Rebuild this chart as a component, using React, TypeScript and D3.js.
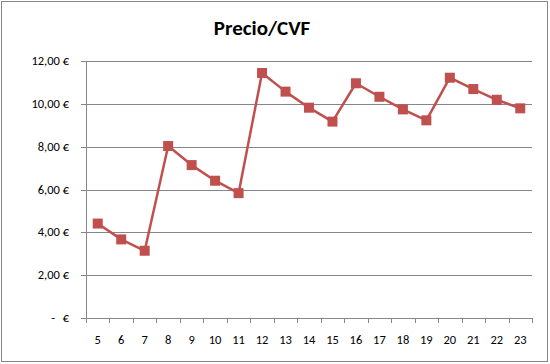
import React from "react";
import * as d3 from "d3";

const categories = ["5","6","7","8","9","10","11","12","13","14","15","16","17","18","19","20","21","22","23"];
const values = [4.41, 3.67, 3.14, 8.03, 7.14, 6.41, 5.83, 11.44, 10.57, 9.82, 9.17, 10.96, 10.33, 9.74, 9.23, 11.22, 10.69, 10.19, 9.79];
const yTicks = [0, 2, 4, 6, 8, 10, 12];
const title = "Precio/CVF";

const W = 550, H = 364;
const left = 86, right = 532, top = 61, bottom = 318;

export default function App() {
  const x = d3.scaleBand<string>().domain(categories).range([left, right]).padding(0);
  const y = d3.scaleLinear().domain([0, 12]).range([bottom, top]);
  const line = d3.line<number>()
    .x((_, i) => (x(categories[i]) as number) + x.bandwidth() / 2)
    .y((d) => y(d));
  const font = "Calibri, Carlito, 'Liberation Sans', Arial, sans-serif";
  const fmt = (v: number) => v.toFixed(2).replace(".", ",") + " €";
  const boundaries = categories.map((c) => x(c) as number).concat([right]);
  return (
    <svg width={W} height={H} style={{ position: "absolute", left: 0, top: 0 }}>
      <rect x={1.5} y={1.5} width={546} height={360} fill="#fff" stroke="#868686" strokeWidth={1} />
      <text x={262} y={35} textAnchor="middle" fontFamily={font} fontWeight="bold" fontSize={21} fill="#000">{title}</text>
      {yTicks.map((t) => (
        <g key={t}>
          {t > 0 && <line x1={left} x2={right} y1={Math.round(y(t)) + 0.5} y2={Math.round(y(t)) + 0.5} stroke="#868686" strokeWidth={1} />}
          <line x1={left - 5} x2={left} y1={Math.round(y(t)) + 0.5} y2={Math.round(y(t)) + 0.5} stroke="#868686" strokeWidth={1} />
          {t > 0 ? (
            <text x={69} y={y(t) + 4} textAnchor="end" fontFamily={font} fontSize={12.5} fill="#000">{fmt(t)}</text>
          ) : (
            <g>
              <text x={55} y={y(t) + 4} textAnchor="end" fontFamily={font} fontSize={12.5} fill="#000">-</text>
              <text x={69} y={y(t) + 4} textAnchor="end" fontFamily={font} fontSize={12.5} fill="#000">€</text>
            </g>
          )}
        </g>
      ))}
      <line x1={left + 0.5} x2={left + 0.5} y1={top} y2={bottom} stroke="#868686" strokeWidth={1} />
      <line x1={left} x2={right} y1={bottom + 0.5} y2={bottom + 0.5} stroke="#868686" strokeWidth={1} />
      {boundaries.map((b, i) => (
        <line key={i} x1={Math.round(b) + 0.5} x2={Math.round(b) + 0.5} y1={bottom} y2={bottom + 5} stroke="#868686" strokeWidth={1} />
      ))}
      {categories.map((c) => (
        <text key={c} x={(x(c) as number) + x.bandwidth() / 2} y={344} textAnchor="middle" fontFamily={font} fontSize={12.5} fill="#000">{c}</text>
      ))}
      <path d={line(values) || ""} fill="none" stroke="#C0504D" strokeWidth={2.5} strokeLinejoin="round" />
      {values.map((v, i) => (
        <rect key={i} x={(x(categories[i]) as number) + x.bandwidth() / 2 - 5} y={y(v) - 5} width={10} height={10} fill="#C0504D" />
      ))}
    </svg>
  );
}
